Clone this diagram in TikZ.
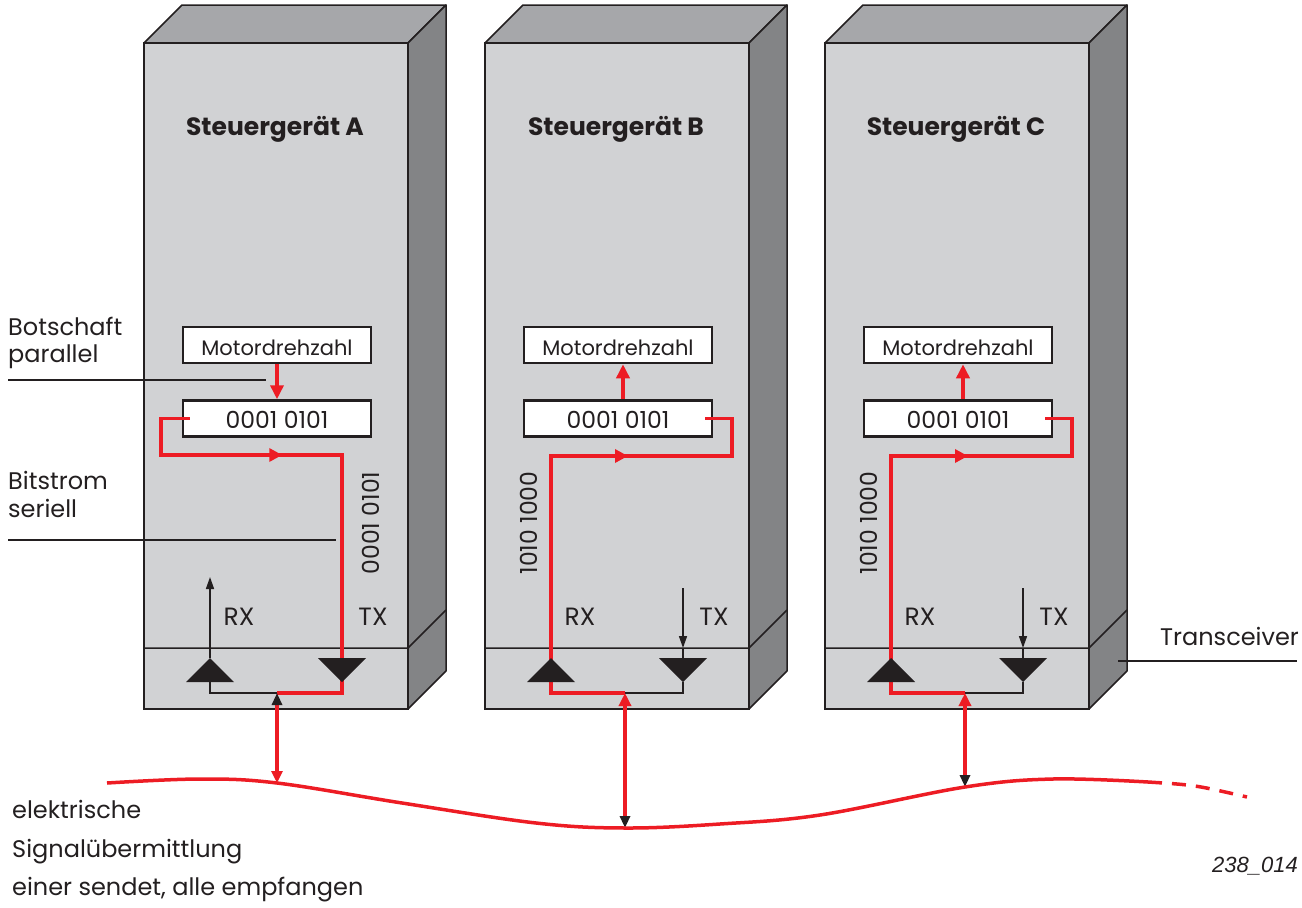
\documentclass[tikz,border=0pt]{standalone}
\usepackage{fontspec}
\setmainfont{Poppins}
\newfontfamily\numfont{Liberation Sans}
\usetikzlibrary{arrows.meta,decorations.markings}

\definecolor{frontgrey}{HTML}{D1D2D4}
\definecolor{topgrey}{HTML}{A6A7AA}
\definecolor{sidegrey}{HTML}{838486}
\definecolor{sigred}{HTML}{ED1C24}
\definecolor{ink}{HTML}{231F20}

\tikzset{
  frontface/.style={fill=frontgrey, draw=ink, line width=1.5pt},
  topface/.style={fill=topgrey, draw=ink, line width=1.5pt, line join=round},
  sideface/.style={fill=sidegrey, draw=ink, line width=1.5pt, line join=round},
  edge/.style={draw=ink, line width=1.5pt},
  title/.style={anchor=base, text=ink, font=\fontsize{25}{28}\selectfont\bfseries},
  msgbox/.style={draw=ink, fill=white, line width=2.5pt, inner sep=0pt,
    minimum width=188pt, minimum height=36pt, text height=21pt, text depth=1pt,
    text=ink, font=\fontsize{21}{24}\selectfont},
  bitbox/.style={msgbox, font=\fontsize{23.5}{26}\selectfont},
  port/.style={anchor=base, text=ink, font=\fontsize{25}{28}\selectfont},
  bitlabel/.style={text=ink, inner sep=0pt, rotate=90, font=\fontsize{23.5}{26}\selectfont},
  lbl/.style={anchor=base west, inner sep=0pt, text=ink, font=\fontsize{24}{28}\selectfont},
  sig/.style={draw=sigred, line width=3.5pt},
  wire/.style={draw=ink, line width=1.5pt},
  leader/.style={draw=ink, line width=2pt},
  redtip/.style={-{Triangle[length=14pt,width=13pt]}},
  blacktip/.style={-{Triangle[length=12pt,width=8pt]}},
  midtip/.style={postaction={decorate}, decoration={markings,
    mark=at position #1 with {\arrow{Triangle[length=13pt,width=13pt]}}}},
}

\begin{document}
\begin{tikzpicture}[x=1pt, y=-1pt]
\useasboundingbox (0,0) rectangle (1302,908);

% Steuergeraete
\foreach \X/\n in {144/A,485/B,825/C} {
  \filldraw[topface] (\X,43) -- ++(38,-38) -- ++(264,0) -- (\X+264,43) -- cycle;
  \filldraw[sideface] (\X+264,43) -- ++(38,-38) -- ++(0,666) -- (\X+264,709) -- cycle;
  \filldraw[frontface] (\X,43) rectangle (\X+264,709);
  \draw[edge] (\X,648) -- ++(264,0) -- ++(38,-38);
  \node[title] (title\n) at (\X+131,135) {Steuergerät \n};
  \node[msgbox] (mot\n) at (\X+133,345) {Motordrehzahl};
  \node[bitbox] (bits\n) at (\X+133,418.5) {0001 0101};
  \node[port] (rx\n) at (\X+95,625) {RX};
  \node[port] (tx\n) at (\X+229,625) {TX};
  \coordinate (rxtip\n) at (\X+66,658);
  \coordinate (txtip\n) at (\X+198,682);
}
\coordinate (joinA) at (277,693);
\coordinate (joinB) at (625,693);
\coordinate (joinC) at (965,693);
\coordinate (busA) at (277,783);
\coordinate (busB) at (625,828);
\coordinate (busC) at (965,787);
\coordinate (busR) at (1148,782);
\coordinate (busEnd) at (1247,797);

% Sender A
\draw[sig, redtip] (motA.south) -- (bitsA.north);
\draw[sig, midtip=187pt] ([xshift=8pt]bitsA.west) -- ++(-29,0) -- ++(0,36.5)
  -| ([yshift=-11pt]txtipA) -- (joinA);
\draw[wire] (joinA) -| ([yshift=-24pt]rxtipA);
\coordinate (rxoutA) at (210,577);
\draw[wire, blacktip] (rxtipA) -- (rxoutA);
\node[bitlabel] (serA) at (371,523) {0001 0101};
\draw[sig, {Triangle[length=12pt,width=10pt,ink]}-{Triangle[length=12pt,width=11pt]}]
  (joinA) -- (busA);

% Empfaenger B und C
\foreach \X/\n in {485/B,825/C} {
  \draw[sig, redtip] ([xshift=5pt]bits\n.north) -- ([xshift=5pt]mot\n.south);
  \draw[sig, midtip=388pt] (join\n) -| (\X+66,456) -- (\X+247,456)
    |- ([xshift=-8pt]bits\n.east);
  \draw[wire] (join\n) -| (txtip\n);
  \coordinate (txin\n) at (\X+198,588);
  \coordinate (txpin\n) at (\X+198,648);
  \draw[wire, blacktip] (txin\n) -- (txpin\n);
  \draw[wire] (txpin\n) -- ([yshift=24pt]txtip\n);
  \node[bitlabel] (ser\n) at (\X+44,523) {1010 1000};
  \draw[sig, {Triangle[length=13pt,width=12pt]}-{Triangle[length=12pt,width=10pt,ink]}]
    (join\n) -- (bus\n);
}

% Sende- und Empfangsstufen
\foreach \n in {A,B,C} {
  \fill[ink] (rxtip\n) -- ++(-24,24) -- ++(48,0) -- cycle;
  \fill[ink] (txtip\n) -- ++(-24,-24) -- ++(48,0) -- cycle;
}

% Bus
\draw[sig] plot[smooth, tension=0.6] coordinates {(107,783) (200,779) (busA)
  (402,803) (536,823) (busB) (720,824) (820,815) (busC) (1053,779) (busR)};
\draw[sig, dash pattern=on 14pt off 10pt] (busR) .. controls (1195,785) .. (busEnd);

% Beschriftung
\node[lbl] (botschaft) at (8,335) {Botschaft};
\node[lbl] (parallel) at (8,362) {parallel};
\coordinate (parL) at (8,380);
\coordinate (parR) at (266,380);
\draw[leader] (parL) -- (parR);
\node[lbl] (bitstrom) at (8,489) {Bitstrom};
\node[lbl] (seriell) at (8,517) {seriell};
\coordinate (serL) at (8,540);
\coordinate (serR) at (336,540);
\draw[leader] (serL) -- (serR);
\node[lbl] (trans) at (1160,645) {Transceiver};
\coordinate (transL) at (1118,661);
\coordinate (transR) at (1297,661);
\draw[leader] (transL) -- (transR);
\node[lbl] (elek) at (12,818) {elektrische};
\node[lbl] (signal) at (12,857) {Signalübermittlung};
\node[lbl] (einer) at (12,895) {einer sendet, alle empfangen};
\node[anchor=base east, inner sep=0pt, text=ink, font=\fontsize{22}{24}\numfont\itshape]
  (bildnr) at (1298,872) {238\_014};
\end{tikzpicture}
\end{document}
